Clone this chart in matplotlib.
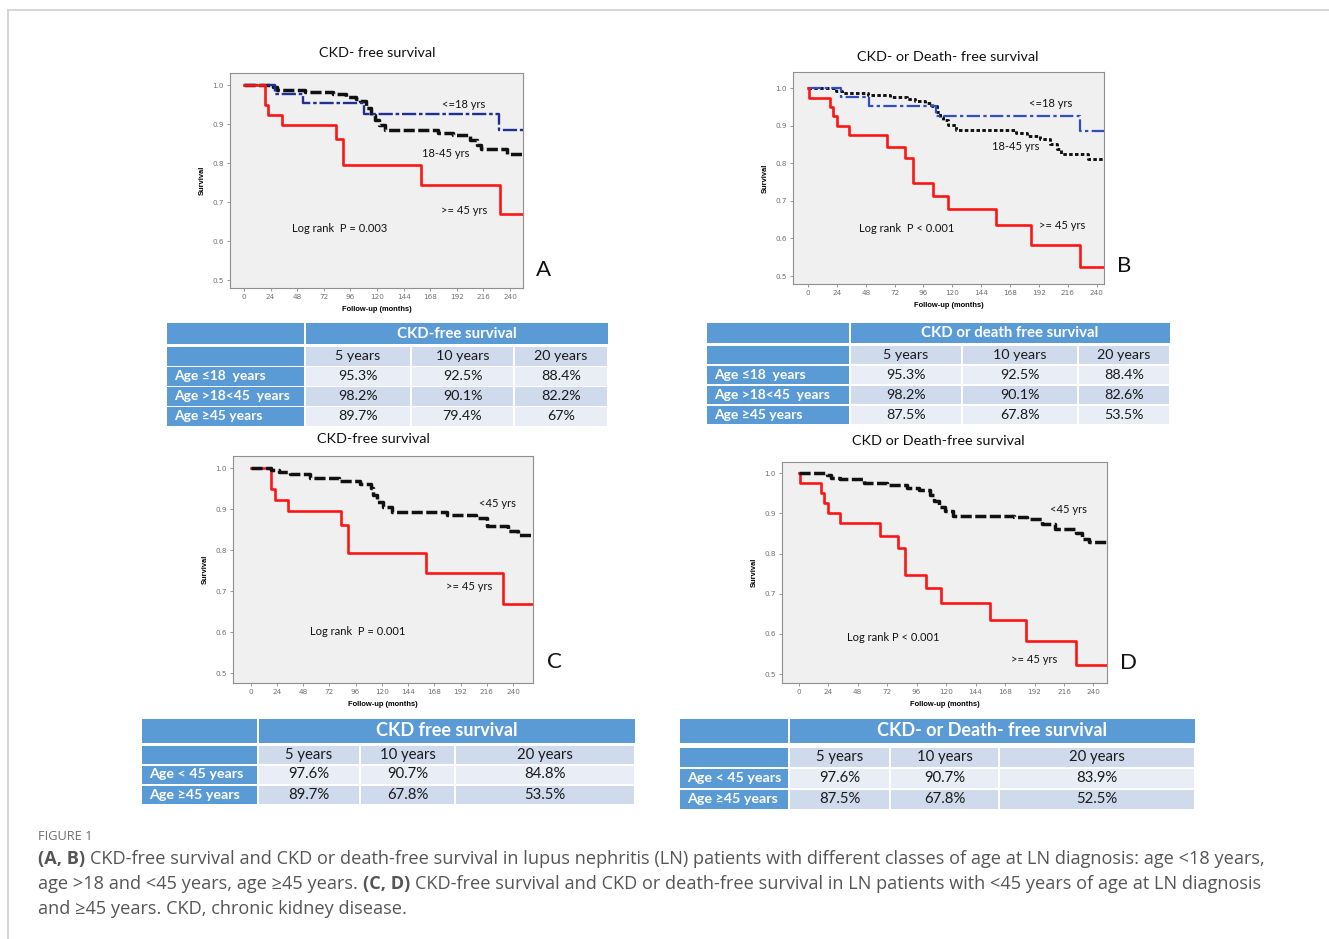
import matplotlib
matplotlib.use('Agg')
import matplotlib.pyplot as plt
from matplotlib.patches import Rectangle
from matplotlib.ticker import FormatStrFormatter
from matplotlib import font_manager

W, H = 1329, 939

# ---- Kaplan-Meier steps (months, survival) ----
# CKD-free survival, >=45 yrs (panels A and C)
red_ckd_t = [0, 19, 22, 34, 83, 89, 160, 231]
red_ckd_s = [1.0, 0.949, 0.923, 0.897, 0.862, 0.794, 0.744, 0.670]
# CKD- or death-free survival, >=45 yrs (panels B and D)
red_death_t = [0, 1, 18.5, 21, 24, 34, 66, 81, 87, 104, 116, 156, 185, 226]
red_death_s = [1.0, 0.975, 0.950, 0.925, 0.900, 0.875, 0.844, 0.813, 0.748,
               0.714, 0.678, 0.636, 0.583, 0.524]
# <=18 yrs
blue_ckd_t = [0, 28, 53, 108, 230]
blue_ckd_s = [1.0, 0.977, 0.953, 0.925, 0.884]
blue_death_t = [0, 27, 51, 106, 226]
blue_death_s = [1.0, 0.977, 0.953, 0.925, 0.886]
# 18-45 yrs
mid_ckd_t = [0, 26, 30, 55, 80, 92, 101, 105, 110, 115, 118, 122, 127, 175,
             189, 204, 210, 214, 237]
mid_ckd_s = [1.0, 0.994, 0.988, 0.981, 0.976, 0.970, 0.964, 0.958, 0.940,
             0.924, 0.910, 0.898, 0.884, 0.876, 0.871, 0.860, 0.847, 0.835, 0.822]
mid_death_t = [0, 23, 28, 50, 68, 82, 89, 97, 103, 107, 110, 112, 116, 123,
               173, 182, 193, 201, 207, 210, 233]
mid_death_s = [1.0, 0.994, 0.988, 0.982, 0.977, 0.972, 0.966, 0.960, 0.953,
               0.938, 0.924, 0.915, 0.902, 0.889, 0.882, 0.874, 0.864, 0.851,
               0.837, 0.825, 0.811]
# <45 yrs
young_ckd_t = [0, 19, 26, 36, 54, 81, 100, 110, 112, 116, 121, 129, 180, 206,
               216, 235, 245]
young_ckd_s = [1.0, 0.996, 0.992, 0.986, 0.976, 0.970, 0.962, 0.951, 0.935,
               0.919, 0.906, 0.894, 0.886, 0.878, 0.859, 0.848, 0.837]
young_death_t = [0, 23, 26, 34, 53, 72, 88, 98, 107, 110, 114, 119, 126, 175,
                 186, 198, 209, 226, 231, 236]
young_death_s = [1.0, 0.996, 0.989, 0.985, 0.975, 0.971, 0.964, 0.959, 0.946,
                 0.931, 0.915, 0.906, 0.894, 0.890, 0.886, 0.874, 0.861, 0.851,
                 0.837, 0.828]

panel_titles = ['CKD- free survival', 'CKD- or Death- free survival',
                'CKD-free survival', 'CKD or Death-free survival']
panel_letters = ['A', 'B', 'C', 'D']
x_ticks = list(range(0, 241, 24))
y_ticks = [0.5, 0.6, 0.7, 0.8, 0.9, 1.0]

# ---- table contents ----
year_heads = ['5 years', '10 years', '20 years']
table_titles = ['CKD-free survival', 'CKD or death free survival',
                'CKD free survival', 'CKD- or Death- free survival']
three_groups = ['Age \u226418  years', 'Age >18<45  years', 'Age \u226545 years']
two_groups = ['Age < 45 years', 'Age \u226545 years']
table_a_vals = [['95.3%', '92.5%', '88.4%'], ['98.2%', '90.1%', '82.2%'], ['89.7%', '79.4%', '67%']]
table_b_vals = [['95.3%', '92.5%', '88.4%'], ['98.2%', '90.1%', '82.6%'], ['87.5%', '67.8%', '53.5%']]
table_c_vals = [['97.6%', '90.7%', '84.8%'], ['89.7%', '67.8%', '53.5%']]
table_d_vals = [['97.6%', '90.7%', '83.9%'], ['87.5%', '67.8%', '52.5%']]

# ---- layout (pixels) ----
panel_rects = [(230, 73, 523, 288), (793, 72, 1104, 284),
               (233, 456, 533, 683), (782, 462, 1107, 683)]
panel_xlims = [(-12.6, 251.7), (-12.5, 246.1), (-16.2, 258.3), (-13.5, 251.0)]
panel_ylims = [(0.4795, 1.031), (0.4787, 1.0434), (0.4763, 1.030), (0.478, 1.028)]
title_pos = [(377, 53), (948, 57), (373, 439), (938, 441)]
letter_pos = [(543, 270), (1124, 266), (554, 662), (1128, 663)]

sans = ['Lato', 'DejaVu Sans']
try:
    font_manager.findfont('Liberation Sans Narrow', fallback_to_default=False)
    cap_font = ['Liberation Sans Narrow', 'DejaVu Sans']
except ValueError:
    cap_font = ['Open Sans', 'DejaVu Sans']

RED = '#ff1414'
fig = plt.figure(figsize=(W / 100, H / 100), dpi=100)
cax = fig.add_axes([0, 0, 1, 1])
cax.set_xlim(0, W)
cax.set_ylim(H, 0)
cax.axis('off')

# light frame around the figure
cax.plot([7.5, W], [9.5, 9.5], color='#cfcfcf', lw=1.2)
cax.plot([7.5, 7.5], [9.5, H], color='#cfcfcf', lw=1.2)


def px_rect(l, t, r, b):
    return [l / W, 1 - b / H, (r - l) / W, (b - t) / H]


def km(ax, t, s, t_end, **kw):
    ax.step(list(t) + [t_end], list(s) + [s[-1]], where='post', **kw)


axes = []
for i, rect in enumerate(panel_rects):
    ax = fig.add_axes(px_rect(*rect))
    ax.set_facecolor('#f0f0f0')
    for sp in ax.spines.values():
        sp.set_color('#8f8f8f')
        sp.set_linewidth(0.8)
    ax.set_xlim(*panel_xlims[i])
    ax.set_ylim(*panel_ylims[i])
    ax.set_xticks(x_ticks)
    ax.set_yticks(y_ticks)
    ax.yaxis.set_major_formatter(FormatStrFormatter('%.1f'))
    ax.tick_params(direction='out', length=2.5, width=0.6, color='#888888',
                   labelsize=5.2, labelcolor='#707070', pad=2)
    ax.set_xlabel('Follow-up (months)', fontsize=5.4, fontweight='bold',
                  family='Liberation Sans', labelpad=4)
    ax.set_ylabel('Survival', fontsize=5.4, fontweight='bold',
                  family='Liberation Sans', labelpad=5)
    cax.text(*title_pos[i], panel_titles[i], fontsize=10.4, family=sans,
             ha='center', va='center', color='#111111')
    cax.text(*letter_pos[i], panel_letters[i], fontsize=16, family=sans,
             ha='center', va='center', color='#111111')
    axes.append(ax)

dashed = dict(color='#111111', lw=2.5, dashes=(3.2, 1))
ax_a, ax_b, ax_c, ax_d = axes

xe = panel_xlims[0][1]
km(ax_a, mid_ckd_t, mid_ckd_s, xe, **dashed)
km(ax_a, blue_ckd_t, blue_ckd_s, xe, color='#1f2f96', lw=1.7, dashes=(6, 1.2, 1.5, 1.2))
km(ax_a, red_ckd_t, red_ckd_s, xe, color=RED, lw=1.9)

xe = panel_xlims[1][1]
km(ax_b, mid_death_t, mid_death_s, xe, color='#111111', lw=2.1, dashes=(1.2, 0.8))
km(ax_b, blue_death_t, blue_death_s, xe, color='#2f4fc0', lw=1.6, dashes=(6, 1.5, 1.5, 1.5))
km(ax_b, red_death_t, red_death_s, xe, color=RED, lw=1.9)

xe = panel_xlims[2][1]
km(ax_c, red_ckd_t, red_ckd_s, xe, color=RED, lw=1.9)
km(ax_c, young_ckd_t, young_ckd_s, xe, **dashed)

xe = panel_xlims[3][1]
km(ax_d, red_death_t, red_death_s, xe, color=RED, lw=1.9)
km(ax_d, young_death_t, young_death_s, xe, **dashed)

# in-plot labels (data coords)
notes = [
    [('<=18 yrs', 198, 0.949), ('18-45 yrs', 182, 0.825), ('>= 45 yrs', 199, 0.679),
     ('Log rank  P = 0.003', 86, 0.633)],
    [('<=18 yrs', 202, 0.960), ('18-45 yrs', 173, 0.844), ('>= 45 yrs', 211, 0.635),
     ('Log rank  P < 0.001', 82, 0.626)],
    [('<45 yrs', 226, 0.913), ('>= 45 yrs', 200, 0.711), ('Log rank  P = 0.001', 98, 0.602)],
    [('<45 yrs', 220, 0.909), ('>= 45 yrs', 192, 0.537), ('Log rank P < 0.001', 77, 0.590)],
]
for ax, items in zip(axes, notes):
    for txt, x, y in items:
        ax.text(x, y, txt, fontsize=8.0, family=sans, ha='center', va='center',
                color='#111111')

# ---- tables ----
BLUE = '#5b9bd5'
LIGHT = '#e8edf6'
DARK = '#cfdaec'


def draw_table(x_edges, rows, title, heads, labels, vals, title_fs, body_fs, label_fs):
    x0 = x_edges[0]
    for t, b in rows:
        cax.add_patch(Rectangle((x0, t), x_edges[1] - x0 - 1, b - t, fc=BLUE, ec='none'))
    t, b = rows[0]
    cax.add_patch(Rectangle((x_edges[1] + 1, t), x_edges[-1] - x_edges[1] - 1, b - t,
                            fc=BLUE, ec='none'))
    cax.text((x_edges[1] + x_edges[-1]) / 2, (t + b) / 2, title, color='white',
             fontweight='bold', fontsize=title_fs, family=sans, ha='center', va='center')
    t, b = rows[1]
    for j, hd in enumerate(heads):
        l, r = x_edges[j + 1], x_edges[j + 2]
        cax.add_patch(Rectangle((l + 1, t), r - l - 2, b - t, fc=DARK, ec='none'))
        cax.text((l + r) / 2, (t + b) / 2, hd, fontsize=body_fs, family=sans,
                 ha='center', va='center', color='#1a1a1a')
    for i, lab in enumerate(labels):
        t, b = rows[i + 2]
        fill = LIGHT if i % 2 == 0 else DARK
        cax.text(x0 + 7, (t + b) / 2, lab, color='white', fontweight='bold',
                 fontsize=label_fs, family=sans, ha='left', va='center')
        for j in range(3):
            l, r = x_edges[j + 1], x_edges[j + 2]
            cax.add_patch(Rectangle((l + 1, t), r - l - 2, b - t, fc=fill, ec='none'))
            cax.text((l + r) / 2, (t + b) / 2, vals[i][j], fontsize=body_fs,
                     family=sans, ha='center', va='center', color='#1a1a1a')


draw_table([167, 305, 411, 514, 608],
           [(323, 344), (347, 365.5), (367, 385.5), (387, 405.5), (407, 425.5)],
           table_titles[0], year_heads, three_groups, table_a_vals, 10.8, 10.3, 10.0)
draw_table([707, 850, 962, 1078, 1170],
           [(323, 342.5), (346, 363.5), (366, 384), (386, 404), (406, 423.5)],
           table_titles[1], year_heads, three_groups, table_b_vals, 10.8, 10.3, 10.0)
draw_table([142, 258, 360, 455, 635],
           [(719, 742.5), (746, 763.5), (765.5, 783.5), (785.5, 804)],
           table_titles[2], year_heads, two_groups, table_c_vals, 13, 10.7, 10.3)
draw_table([680, 789, 890, 999, 1195],
           [(719, 742.5), (747.5, 766.5), (768.5, 788), (790, 808.5)],
           table_titles[3], year_heads, two_groups, table_d_vals, 13, 10.7, 10.3)

# ---- caption ----
caption_lines = [
    [('(A, B)', True), ('CKD-free survival and CKD or death-free survival in lupus nephritis (LN) '
                        'patients with different classes of age at LN diagnosis: age <18 years,', False)],
    [('age >18 and <45 years, age \u226545 years.', False), ('(C, D)', True),
     ('CKD-free survival and CKD or death-free survival in LN patients with <45 years of age at LN diagnosis', False)],
    [('and \u226545 years. CKD, chronic kidney disease.', False)],
]
renderer = fig.canvas.get_renderer()


def text_width(s, size, bold):
    t = cax.text(0, 0, s, fontsize=size, family=cap_font,
                 fontweight='bold' if bold else 'normal')
    w = t.get_window_extent(renderer).width
    t.remove()
    return w


cap_size = 11.0
full1 = ' '.join(s for s, _ in caption_lines[0])
cap_size *= 1228 / text_width(full1, cap_size, False)
cap_size = min(cap_size, 13.5)
space = text_width('a a', cap_size, False) - text_width('aa', cap_size, False)

cax.text(38, 836, 'FIGURE 1', fontsize=9.2, family=cap_font, color='#6e6e6e',
         ha='left', va='center')
for k, runs in enumerate(caption_lines):
    x = 38
    y = 859 + 25 * k
    for s, bold in runs:
        cax.text(x, y, s, fontsize=cap_size, family=cap_font, color='#555555',
                 fontweight='bold' if bold else 'normal', ha='left', va='center')
        x += text_width(s, cap_size, bold) + space

fig.savefig('out.png', dpi=100)
